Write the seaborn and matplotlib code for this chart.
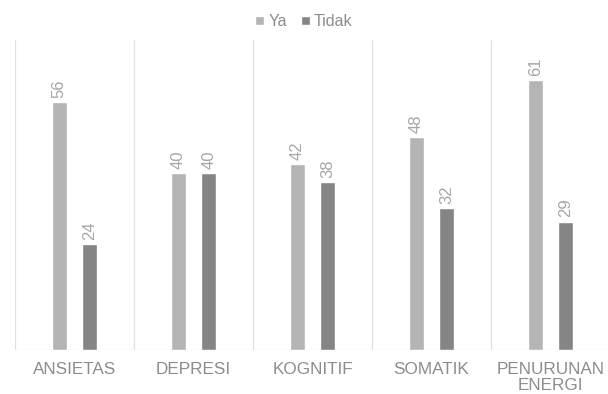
import matplotlib
matplotlib.use("Agg")
import matplotlib.pyplot as plt
import seaborn as sns
import pandas as pd

categories = ["ANSIETAS", "DEPRESI", "KOGNITIF", "SOMATIK", "PENURUNAN\nENERGI"]
ya = [56, 40, 42, 48, 61]
tidak = [24, 40, 38, 32, 29]
series = ["Ya", "Tidak"]

df = pd.DataFrame({
    "kategori": categories * 2,
    "nilai": ya + tidak,
    "seri": [series[0]] * len(categories) + [series[1]] * len(categories),
})

sns.set_style("white")
plt.rcParams["font.family"] = ["Liberation Sans", "DejaVu Sans"]

fig = plt.figure(figsize=(6.08, 3.94), dpi=100)
ax = fig.add_axes([15 / 608, 44 / 394, 595 / 608, 310 / 394])

palette = {"Ya": "#B4B4B4", "Tidak": "#858585"}
sns.barplot(data=df, x="kategori", y="nilai", hue="seri", palette=palette,
            width=0.512, gap=0.51, ax=ax, saturation=1, legend=True)

for c in ax.containers:
    ax.bar_label(c, rotation=90, padding=3, fontsize=12, color="#A6A6A6")

ax.set_ylim(0, 70)
ax.set_xlim(-0.5, len(categories) - 0.5)
for i in range(len(categories) + 1):
    ax.axvline(i - 0.5, color="#E0E0E0", lw=0.9, zorder=0)
ax.axhline(0, color="#D9D9D9", lw=0.9, zorder=0)
for s in ax.spines.values():
    s.set_visible(False)
ax.set_yticks([])
ax.set_xlabel("")
ax.set_ylabel("")
ax.tick_params(axis="x", length=0, pad=9, labelsize=12.3, colors="#8C8C8C")
for t in ax.get_xticklabels():
    t.set_linespacing(1.05)

leg = ax.legend(loc="upper center", bbox_to_anchor=(0.5 * 608 / 595 - 15 / 595, 1.13),
                ncol=2, frameon=False, fontsize=11.5, handlelength=0.55, handleheight=0.55,
                handletextpad=0.25, columnspacing=0.9, labelcolor="#8C8C8C")

fig.savefig("out.png", dpi=100)
